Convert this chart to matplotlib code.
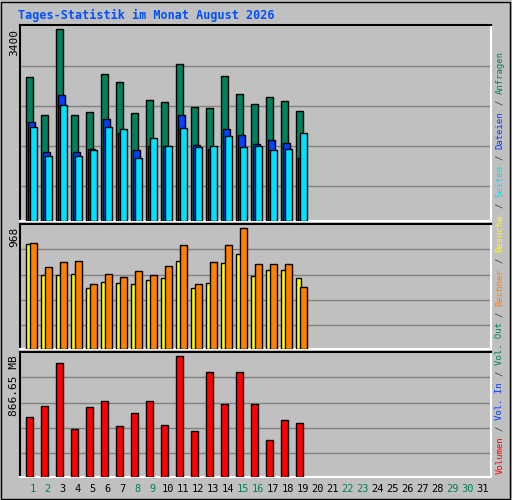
import matplotlib
matplotlib.use("Agg")
import matplotlib.pyplot as plt
from matplotlib.patches import Rectangle

days = list(range(1, 20))
anfragen = [2546, 1887, 3400, 1887, 1940, 2599, 2457, 1923, 2154, 2118, 2777, 2029, 2012, 2581, 2261, 2083, 2207, 2136, 1958]
dateien = [1762, 1228, 2243, 1228, 1282, 1816, 1567, 1264, 1335, 1335, 1887, 1353, 1282, 1638, 1531, 1371, 1442, 1389, 1122]
seiten = [1673, 1157, 2065, 1157, 1264, 1673, 1638, 1122, 1478, 1335, 1656, 1317, 1335, 1513, 1317, 1335, 1264, 1282, 1567]
besuche = [839, 597, 597, 605, 492, 540, 532, 524, 557, 573, 710, 492, 532, 694, 766, 589, 637, 637, 573]
rechner = [847, 661, 702, 710, 524, 605, 581, 629, 597, 670, 831, 524, 702, 831, 968, 686, 686, 686, 500]
volumen = [431, 511, 816, 344, 504, 547, 366, 460, 547, 373, 866.65, 329, 750, 525, 750, 525, 264, 409, 387]
weekend = [1, 2, 8, 9, 15, 16, 22, 23, 29, 30]

BG = "#c0c0c0"; GREEN = "#00805c"; BLUE = "#0040ff"; CYAN = "#00e0ff"
YEL = "#ffff00"; ORA = "#ff8000"; RED = "#ff0000"; GRID = "#808080"
MONO = "DejaVu Sans Mono"

W, H = 512, 500
fig = plt.figure(figsize=(W/100, H/100), dpi=100, facecolor=BG)
fig.patches.append(Rectangle((1, 1), W-3, H-3, transform=None, fill=False, ec="black", lw=1))

def px_axes(x0, y0, x1, y1):
    ax = fig.add_axes([x0/W, 1-y1/H, (x1-x0)/W, (y1-y0)/H])
    ax.set_facecolor(BG)
    for s in ("left", "top"): ax.spines[s].set_color("black")
    for s in ("right", "bottom"): ax.spines[s].set_color("white")
    for s in ax.spines.values(): s.set_linewidth(1.5)
    ax.set_xticks([]); ax.set_yticks([])
    ax.set_xlim(0.6, 31.98)
    return ax

kw = dict(align="edge", edgecolor="black", linewidth=1, zorder=3)

ax1 = px_axes(20, 25, 491, 221)
ax1.set_ylim(0, 3477)
for g in [619, 1332, 2045, 2758]: ax1.axhline(g, color=GRID, lw=1, zorder=1)
ax1.bar(days, anfragen, width=0.45, color=GREEN, **kw)
ax1.bar([d+0.1 for d in days], dateien, width=0.5, color=BLUE, **kw)
ax1.bar([d+0.24 for d in days], seiten, width=0.47, color=CYAN, **kw)

ax2 = px_axes(20, 224, 491, 349)
ax2.set_ylim(0, 1003)
for g in [194, 395, 597, 799]: ax2.axhline(g, color=GRID, lw=1, zorder=1)
ax2.bar(days, besuche, width=0.35, color=YEL, **kw)
ax2.bar([d+0.24 for d in days], rechner, width=0.47, color=ORA, **kw)

ax3 = px_axes(20, 352, 491, 477)
ax3.set_ylim(0, 895.7)
for g in [169.8, 351, 533, 714]: ax3.axhline(g, color=GRID, lw=1, zorder=1)
ax3.bar(days, volumen, width=0.47, color=RED, **kw)

fig.text(18/W, 1-15/H, "Tages-Statistik im Monat August 2026", color="#0050ff",
         fontsize=8.5, fontweight="bold", family=MONO, va="center")
fig.text(14/W, 1-29/H, "3400", rotation=90, fontsize=8, family=MONO, ha="center", va="top")
fig.text(14/W, 1-227/H, "968", rotation=90, fontsize=8, family=MONO, ha="center", va="top")
fig.text(14/W, 1-355/H, "866.65 MB", rotation=90, fontsize=8, family=MONO, ha="center", va="top")

for d in range(1, 32):
    x = 20 + (d + 0.45 - 0.6) * 15.0
    fig.text(x/W, 1-489/H, str(d), fontsize=7.5, family=MONO, ha="center", va="center",
             color=GREEN if d in weekend else "black")

legend = [("Volumen", RED), ("Vol. In", BLUE), ("Vol. Out", GREEN), ("Rechner", ORA),
          ("Besuche", YEL), ("Seiten", CYAN), ("Dateien", BLUE), ("Anfragen", GREEN)]
y = 474.0
cw = 5.42
for i, (txt, col) in enumerate(legend):
    n = len(txt)
    fig.text(500/W, 1-(y - n*cw/2)/H, txt, rotation=90, fontsize=6.5, family=MONO,
             color=col, ha="center", va="center")
    y -= n * cw
    if i < len(legend) - 1:
        fig.text(500/W, 1-(y - 1.5*cw)/H, "/", rotation=90, fontsize=6.5, family=MONO,
                 color="#404040", ha="center", va="center")
        y -= 3 * cw

fig.savefig("out.png", dpi=100, facecolor=BG)
